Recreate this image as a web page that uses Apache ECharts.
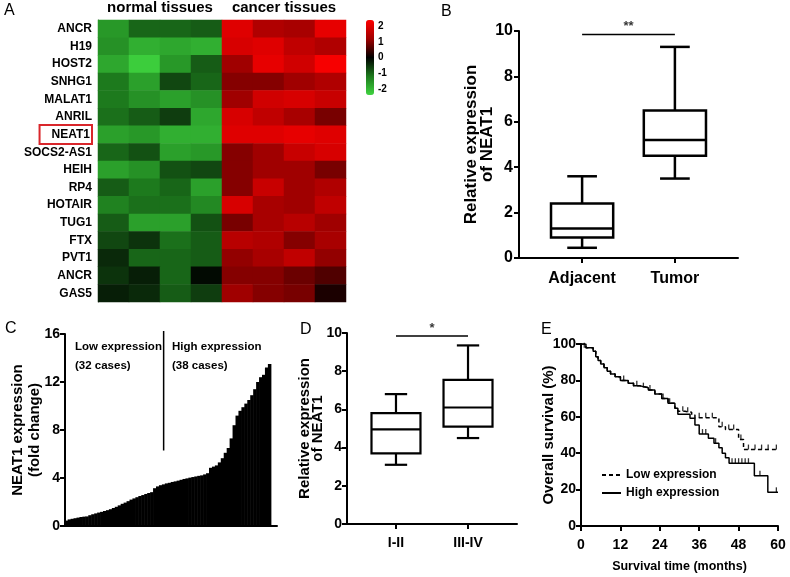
<!DOCTYPE html>
<html><head><meta charset="utf-8">
<script src="https://cdn.jsdelivr.net/npm/echarts@6/dist/echarts.min.js"></script>
<style>html,body{margin:0;padding:0;background:#fff}#c{width:790px;height:577px}</style>
</head><body><div id="c"></div>
<script>
// ---------- Panel A data ----------
const genes = ['ANCR','H19','HOST2','SNHG1','MALAT1','ANRIL','NEAT1','SOCS2-AS1','HEIH','RP4','HOTAIR','TUG1','FTX','PVT1','ANCR','GAS5'];
const tissueGroups = ['normal tissues','cancer tissues'];
const sampleCols = ['N1','N2','N3','N4','C1','C2','C3','C4'];
const normalVals = [
[-1.6,-1.0,-1.0,-0.9],[-1.5,-1.9,-1.8,-1.9],[-1.8,-2.3,-1.6,-0.9],[-1.2,-1.7,-0.7,-1.0],
[-1.2,-1.5,-1.7,-1.5],[-1.1,-0.9,-0.6,-1.8],[-1.7,-1.6,-1.9,-1.9],[-1.0,-0.8,-1.7,-1.6],
[-1.7,-1.5,-0.8,-0.7],[-0.9,-1.2,-1.0,-1.7],[-1.3,-1.1,-1.1,-1.4],[-0.9,-1.7,-1.7,-0.8],
[-0.7,-0.5,-1.1,-0.9],[-0.4,-1.0,-1.0,-0.9],[-0.5,-0.3,-1.0,-0.1],[-0.3,-0.4,-0.9,-0.6]];
const cancerVals = [
[2.0,1.4,1.3,2.1],[1.9,2.0,1.6,1.4],[1.2,2.1,1.8,2.3],[1.0,1.0,1.2,1.4],
[1.2,1.8,1.9,1.7],[1.9,1.6,1.3,0.9],[2.0,2.0,2.1,2.0],[1.0,1.2,1.7,1.9],
[1.0,1.2,1.2,0.9],[1.0,1.7,1.2,1.4],[1.9,1.3,1.2,1.6],[0.9,1.3,1.5,1.2],
[1.5,1.4,1.0,1.3],[1.1,1.3,1.6,1.1],[1.0,1.0,0.8,0.6],[1.2,1.0,0.9,0.2]];
const colorbarTicks = [2,1,0,-1,-2];
const highlightGene = 6; // NEAT1 row

// ---------- Panel B data ----------
const tissueCats = ['Adjacent','Tumor'];
const adjacentBox = [0.45,0.9,1.3,2.4,3.6];   // min,Q1,median,Q3,max
const tumorBox = [3.5,4.5,5.2,6.5,9.3];
const sigB = '**';
const sigBLevel = 9.85;

// ---------- Panel C data ----------
const caseValues = [0.45,0.55,0.6,0.65,0.7,0.75,0.78,0.8,0.9,0.98,1.05,1.12,1.18,1.25,1.32,1.4,1.5,1.6,1.72,1.85,
1.95,2.07,2.2,2.3,2.4,2.5,2.58,2.67,2.75,2.82,3.15,3.3,3.4,3.47,3.55,3.6,3.67,3.72,3.78,3.85,
3.92,3.97,4.03,4.08,4.13,4.18,4.22,4.3,4.4,4.85,4.95,5.05,5.3,5.65,6.1,6.5,7.3,8.4,9.2,9.6,
9.9,10.2,10.5,10.9,11.4,12.0,12.4,12.6,13.2,13.5];
const caseIds = caseValues.map((v,i)=>String(i+1));
const groupNotes = ['Low expression\n(32 cases)','High expression\n(38 cases)'];
const dividerIndex = 33;
const dividerRange = [6.3,16.25];

// ---------- Panel D data ----------
const stageCats = ['I-II','III-IV'];
const stage12Box = [3.1,3.7,4.95,5.8,6.8];
const stage34Box = [4.5,5.1,6.1,7.55,9.35];
const sigD = '*';
const sigDLevel = 9.84;

// ---------- Panel E data ----------
const survLegend = ['Low expression','High expression'];
const lowSurv = [[0,100],[1.5,98],[3.7,96],[4.5,93],[5.2,91],[6,89],[7,87],[8,85],[9,83.5],[10.4,82],[12,80],[14.4,78.4],[16,77],[18,76],[20.5,74.7],[22.5,72.5],[24.6,70.1],[26.5,67.5],[28.6,64.7],[29.5,63],[31.7,62.5],[33.7,61],[34.7,59.5],[42,54.5],[44,53],[48,47.5],[49.5,42],[60,42]];
const highSurv = [[0,100],[1.5,98],[3.7,96],[4.5,93],[5.2,91],[6,89],[7,87],[8,85],[9,83.5],[10.4,82],[12,80],[14.4,78.4],[16,77],[18,76],[20.5,74.7],[22.5,72.5],[24.6,70.1],[26.5,67.5],[28.6,64.7],[29.5,61.4],[33.2,59.2],[34.7,55.5],[36,50.5],[38.8,48.2],[40.5,45.5],[42,43],[43,40],[44,37.5],[45.1,34.5],[52.8,27.6],[56.9,18.5],[60,18.5]];
const lowCensor = [[1,98],[13,80],[17,77],[19,76],[21,74.7],[25,70.1],[27,67.5],[31,63],[32.5,62.5],[36,59.5],[38,59.5],[40,59.5],[43,54.5],[45,53],[46.5,53],[48.7,47.5],[51,42],[53,42],[55,42],[57,42],[59.5,42]];
const highCensor = [[37,50.5],[38,50.5],[41,45.5],[46,34.5],[47,34.5],[48,34.5],[49,34.5],[50,34.5],[51,34.5],[54.5,27.6],[59.5,18.5]];

const panelLetters = ['A','B','C','D','E'];

// ---------- helpers ----------
const REG = "'Liberation Sans',Arial,Helvetica,sans-serif";
const heatData = [];
genes.forEach((g,r)=>{
  normalVals[r].forEach((v,c)=>heatData.push([c,r,v]));
  cancerVals[r].forEach((v,c)=>heatData.push([c+4,r,v]));
});
function boxRender(boxFrac, capFrac, lw){
  return function(params, api){
    const x = api.value(0);
    const pts = [1,2,3,4,5].map(i=>api.coord([x, api.value(i)]));
    const unit = api.size([1,0])[0];
    const bw = unit*boxFrac, cw = unit*capFrac, cx = pts[0][0];
    const st = {stroke:'#000', lineWidth:lw, fill:null};
    const ln = (x1,y1,x2,y2)=>({type:'line', shape:{x1,y1,x2,y2}, style:st});
    return {type:'group', children:[
      {type:'rect', shape:{x:cx-bw/2, y:pts[3][1], width:bw, height:pts[1][1]-pts[3][1]}, style:{stroke:'#000', lineWidth:lw, fill:'#fff'}},
      ln(cx-bw/2, pts[2][1], cx+bw/2, pts[2][1]),
      ln(cx, pts[3][1], cx, pts[4][1]),
      ln(cx, pts[1][1], cx, pts[0][1]),
      ln(cx-cw/2, pts[4][1], cx+cw/2, pts[4][1]),
      ln(cx-cw/2, pts[0][1], cx+cw/2, pts[0][1])
    ]};
  };
}
const axLine = {show:true, onZero:false, lineStyle:{color:'#000', width:2}};
const axTick = {show:true, length:5, lineStyle:{color:'#000', width:2}};
const lbl = (size, margin)=>({fontFamily:REG, fontWeight:'bold', fontSize:size, color:'#000', margin:margin});

const option = {
  animation:false,
  backgroundColor:'#fff',
  title: [
    {text:panelLetters[0], left:4, top:3},
    {text:panelLetters[1], left:441, top:4},
    {text:panelLetters[2], left:5, top:321},
    {text:panelLetters[3], left:300, top:322},
    {text:panelLetters[4], left:541, top:322},
    {text:groupNotes[0], left:75, top:337, textStyle:{fontFamily:REG, fontSize:11.5, fontWeight:'bold', lineHeight:19, color:'#000'}},
    {text:groupNotes[1], left:172, top:337, textStyle:{fontFamily:REG, fontSize:11.5, fontWeight:'bold', lineHeight:19, color:'#000'}}
  ].map(t=>Object.assign({padding:0, textStyle:{fontFamily:REG, fontSize:16, fontWeight:'normal', color:'#000'}}, t)),
  grid: [
    {left:98, top:20, width:248, height:282},
    {left:366, top:20, width:8, height:75},
    {left:519, top:31, width:219, height:227},
    {left:65, top:334, width:212, height:192},
    {left:347, top:333, width:170, height:191},
    {left:581, top:344, width:197, height:182}
  ],
  visualMap: {
    type:'continuous', seriesIndex:0, min:-2.4, max:2.4, calculable:false,
    left:366, top:20, itemWidth:8, itemHeight:75, padding:0, text:null, showLabel:false,
    inRange:{color:['#3fd43f','#1d7a1d','#000000','#a00000','#ff0000']}
  },
  legend: {
    data: survLegend, orient:'vertical', left:596, top:464, itemWidth:19, itemHeight:8, itemGap:6,
    itemStyle:{opacity:0},
    textStyle:{fontFamily:REG, fontSize:12, fontWeight:'bold', color:'#000'}
  },
  xAxis: [
    {gridIndex:0, type:'category', data:sampleCols, show:false},
    {gridIndex:0, type:'category', data:tissueGroups, position:'top', axisLine:{show:false}, axisTick:{show:false},
      axisLabel:Object.assign({interval:0}, lbl(15,5))},
    {gridIndex:1, type:'value', min:0, max:1, show:false},
    {gridIndex:2, type:'value', min:-0.68, max:1.68, splitLine:{show:false}, axisLine:axLine,
      axisTick:Object.assign({customValues:[0,1]}, axTick),
      axisLabel:Object.assign({customValues:[0,1], formatter:v=>tissueCats[Math.round(v)]}, lbl(16,13))},
    {gridIndex:3, type:'category', data:caseIds, max:71, axisLine:axLine, axisTick:{show:false}, axisLabel:{show:false}},
    {gridIndex:4, type:'value', min:-0.68, max:1.68, splitLine:{show:false}, axisLine:axLine,
      axisTick:Object.assign({customValues:[0,1]}, axTick),
      axisLabel:Object.assign({customValues:[0,1], formatter:v=>stageCats[Math.round(v)]}, lbl(14,12))},
    {gridIndex:5, type:'value', min:0, max:60, interval:12, splitLine:{show:false}, axisLine:axLine, axisTick:axTick,
      axisLabel:lbl(14,12),
      name:'Survival time (months)', nameLocation:'middle', nameGap:34,
      nameTextStyle:{fontFamily:REG, fontWeight:'bold', fontSize:12.5, color:'#000'}}
  ],
  yAxis: [
    {gridIndex:0, type:'category', data:genes, inverse:true, axisTick:{show:false},
      axisLine:{show:true, lineStyle:{color:'#666', width:1}},
      axisLabel:Object.assign({
        formatter:(v,i)=> i===highlightGene ? '{box|'+v+'}' : v,
        rich:{box:{fontFamily:REG, fontWeight:'bold', fontSize:12, color:'#000', borderColor:'#d9262b', borderWidth:2, padding:[4,2,3,12]}}}, lbl(12,6))},
    {gridIndex:1, type:'value', min:-2.4, max:2.4, position:'right', splitLine:{show:false}, axisLine:{show:false},
      axisTick:{show:true, customValues:colorbarTicks, length:2, lineStyle:{color:'#333'}},
      axisLabel:Object.assign({customValues:colorbarTicks}, lbl(10,4))},
    {gridIndex:2, type:'value', min:0, max:10, interval:2, splitLine:{show:false}, axisLine:axLine, axisTick:axTick,
      axisLabel:lbl(16,6),
      name:'Relative expression\nof NEAT1', nameLocation:'middle', nameGap:24, nameRotate:90, nameMoveOverlap:false,
      nameTextStyle:{fontFamily:REG, fontWeight:'bold', fontSize:17, lineHeight:16, color:'#000'}},
    {gridIndex:3, type:'value', min:0, max:16, interval:4, splitLine:{show:false}, axisLine:axLine, axisTick:axTick,
      axisLabel:lbl(14,5),
      name:'NEAT1 expression\n(fold change)', nameLocation:'middle', nameGap:22, nameRotate:90, nameMoveOverlap:false,
      nameTextStyle:{fontFamily:REG, fontWeight:'bold', fontSize:15, lineHeight:17, color:'#000'}},
    {gridIndex:4, type:'value', min:0, max:10, interval:2, splitLine:{show:false}, axisLine:axLine, axisTick:axTick,
      axisLabel:lbl(14,5),
      name:'Relative expression\nof NEAT1', nameLocation:'middle', nameGap:23, nameRotate:90, nameMoveOverlap:false,
      nameTextStyle:{fontFamily:REG, fontWeight:'bold', fontSize:15, lineHeight:13, color:'#000'}},
    {gridIndex:5, type:'value', min:0, max:100, interval:20, splitLine:{show:false}, axisLine:axLine, axisTick:axTick,
      axisLabel:lbl(14,5),
      name:'Overall survival (%)', nameLocation:'middle', nameGap:25, nameRotate:90, nameMoveOverlap:false,
      nameTextStyle:{fontFamily:REG, fontWeight:'bold', fontSize:15, color:'#000'}}
  ],
  series: [
    {type:'heatmap', xAxisIndex:0, yAxisIndex:0, data:heatData, itemStyle:{borderWidth:0}},
    {type:'custom', xAxisIndex:3, yAxisIndex:2, renderItem:boxRender(0.67,0.32,2.5),
      encode:{x:0, y:[1,2,3,4,5]}, data:[[0].concat(adjacentBox),[1].concat(tumorBox)]},
    {type:'line', xAxisIndex:3, yAxisIndex:2, data:[[0,sigBLevel],[1,sigBLevel]], symbol:'none', lineStyle:{color:'#000', width:1.5}},
    {type:'scatter', xAxisIndex:3, yAxisIndex:2, data:[[0.5,sigBLevel]], symbolSize:1, clip:false, itemStyle:{color:'rgba(0,0,0,0)'},
      label:{show:true, position:'top', distance:1, formatter:sigB, fontFamily:REG, fontWeight:'bold', fontSize:13, color:'#000'}},
    {type:'bar', xAxisIndex:4, yAxisIndex:3, data:caseValues, barWidth:3.5, barGap:'-100%',
      itemStyle:{color:'#000'}},
    {type:'line', xAxisIndex:4, yAxisIndex:3, data:[[dividerIndex, dividerRange[0]],[dividerIndex, dividerRange[1]]],
      symbol:'none', clip:false, lineStyle:{color:'#000', width:1.5}},
    {type:'custom', xAxisIndex:5, yAxisIndex:4, renderItem:boxRender(0.68,0.31,2.2),
      encode:{x:0, y:[1,2,3,4,5]}, data:[[0].concat(stage12Box),[1].concat(stage34Box)]},
    {type:'line', xAxisIndex:5, yAxisIndex:4, data:[[0,sigDLevel],[1,sigDLevel]], symbol:'none', lineStyle:{color:'#000', width:1.5}},
    {type:'scatter', xAxisIndex:5, yAxisIndex:4, data:[[0.5,sigDLevel]], symbolSize:1, clip:false, itemStyle:{color:'rgba(0,0,0,0)'},
      label:{show:true, position:'top', distance:1, formatter:sigD, fontFamily:REG, fontWeight:'bold', fontSize:13, color:'#000'}},
    {name:survLegend[0], type:'line', xAxisIndex:6, yAxisIndex:5, step:'end', data:lowSurv, symbol:'none',
      lineStyle:{color:'#000', width:1.5, type:[4,3]}, itemStyle:{color:'#000'}},
    {name:survLegend[1], type:'line', xAxisIndex:6, yAxisIndex:5, step:'end', data:highSurv, symbol:'none',
      lineStyle:{color:'#000', width:1.5}, itemStyle:{color:'#000'}},
    {type:'scatter', xAxisIndex:6, yAxisIndex:5, data:lowCensor, symbol:'rect', symbolSize:[1.3,5], symbolOffset:[0,-2.5], itemStyle:{color:'#000'}},
    {type:'scatter', xAxisIndex:6, yAxisIndex:5, data:highCensor, symbol:'rect', symbolSize:[1.3,5], symbolOffset:[0,-2.5], itemStyle:{color:'#000'}}
  ]
};
const chart = echarts.init(document.getElementById('c'), null, {renderer:'canvas'});
chart.setOption(option);
</script>
</body></html>
